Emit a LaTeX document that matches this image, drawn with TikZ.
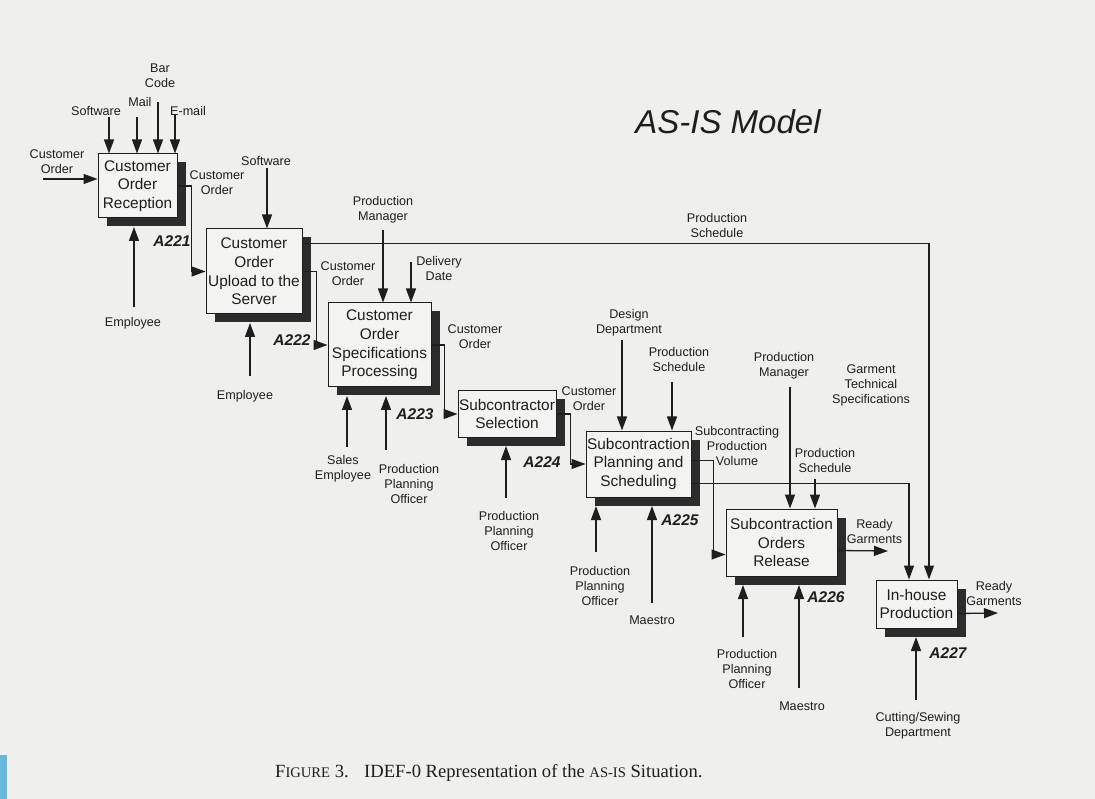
\documentclass[tikz,border=0pt]{standalone}
\usepackage{fontspec}
\setmainfont{Liberation Serif}
\newfontfamily\arialfont{Liberation Sans}
\usetikzlibrary{arrows.meta,shadows,calc}

\definecolor{paper}{RGB}{239,239,236}
\definecolor{ink}{RGB}{30,30,30}
\definecolor{shade}{RGB}{44,44,44}
\definecolor{boxfill}{RGB}{243,243,241}
\definecolor{strip}{RGB}{104,182,222}

\tikzset{
  procbox/.style={draw=ink, line width=1pt, fill=boxfill, inner sep=0pt,
    align=center, text=ink, font=\arialfont\fontsize{15.4}{18.7}\selectfont,
    drop shadow={shadow xshift=8.5pt, shadow yshift=-8.5pt, fill=shade, opacity=1}},
  lbl/.style={align=center, inner sep=0pt, text=ink,
    font=\arialfont\fontsize{12.6}{15}\selectfont},
  boxid/.style={inner sep=0pt, text=ink,
    font=\arialfont\bfseries\itshape\fontsize{15.5}{18}\selectfont},
  arr/.style={draw=ink, line width=1.3pt, -{Triangle[length=14pt,width=10pt]}},
}

\begin{document}
\begin{tikzpicture}[x=1pt,y=-1pt]
\useasboundingbox (0,0) rectangle (1095,799);
\fill[paper] (0,0) rectangle (1095,799);
\fill[strip] (0,755) rectangle (7,799);

% activity boxes
\node[procbox, minimum width=79pt, minimum height=64pt] (a221) at (137.5,186)
  {Customer\\Order\\Reception};
\node[procbox, minimum width=96pt, minimum height=85pt] (a222) at (254,271.5)
  {Customer\\Order\\Upload to the\\Server};
\node[procbox, minimum width=103pt, minimum height=84pt] (a223) at (379.5,345)
  {Customer\\Order\\Specifications\\Processing};
\node[procbox, minimum width=98pt, minimum height=46pt] (a224) at (507,414)
  {Subcontractor\\Selection};
\node[procbox, minimum width=105pt, minimum height=66pt] (a225) at (638.5,464)
  {Subcontraction\\Planning and\\Scheduling};
\node[procbox, minimum width=111pt, minimum height=67pt] (a226) at (781.5,542.5)
  {Subcontraction\\Orders\\Release};
\node[procbox, minimum width=81pt, minimum height=48pt] (a227) at (916.5,604)
  {In-house\\Production};

% box numbers
\node[boxid] (n221) at (172,241) {A221};
\node[boxid] (n222) at (292,340) {A222};
\node[boxid] (n223) at (415,414) {A223};
\node[boxid] (n224) at (542,462) {A224};
\node[boxid] (n225) at (680,520) {A225};
\node[boxid] (n226) at (826,597) {A226};
\node[boxid] (n227) at (948,653) {A227};

% free ends of boundary arrows
\coordinate (in221)  at (43,179);
\coordinate (sw221)  at (109,117);
\coordinate (ml221)  at (137,117);
\coordinate (bc221)  at (158,102);
\coordinate (em221)  at (175,115);
\coordinate (ep221)  at (134,307);
\coordinate (sw222)  at (267,168);
\coordinate (ep222)  at (250,376);
\coordinate (pm223)  at (383,230);
\coordinate (dd223)  at (411,262);
\coordinate (se223)  at (347,447);
\coordinate (po223)  at (386,450);
\coordinate (po224)  at (506,498);
\coordinate (dp225)  at (622,340);
\coordinate (ps225)  at (672,382);
\coordinate (po225)  at (596,552);
\coordinate (ma225)  at (652,603);
\coordinate (pm226)  at (790,387);
\coordinate (ps226)  at (815,479);
\coordinate (po226)  at (743,637);
\coordinate (ma226)  at (799,688);
\coordinate (rg226)  at (888,551);
\coordinate (cs227)  at (916,700);
\coordinate (rg227)  at (998,613);

% A221
\draw[arr] (in221) -- (in221 -| a221.west);
\draw[arr] (sw221) -- (sw221 |- a221.north);
\draw[arr] (ml221) -- (ml221 |- a221.north);
\draw[arr] (bc221) -- (bc221 |- a221.north);
\draw[arr] (em221) -- (em221 |- a221.north);
\draw[arr] (ep221) -- ($(ep221 |- a221.south)+(0,8.5)$);
\draw[arr] (a221.east) -- ++(14,0) |- (a222.west);

% A222
\draw[arr] (sw222) -- (sw222 |- a222.north);
\draw[arr] (ep222) -- ($(ep222 |- a222.south)+(0,8.5)$);
\draw[arr] ($(a222.north east)+(0,15)$) -| ($(a227.north)+(12.5,0)$);
\draw[arr] (a222.east) -- ++(14,0) |- (a223.west);

% A223
\draw[arr] (pm223) -- (pm223 |- a223.north);
\draw[arr] (dd223) -- (dd223 |- a223.north);
\draw[arr] (se223) -- ($(se223 |- a223.south)+(0,8.5)$);
\draw[arr] (po223) -- ($(po223 |- a223.south)+(0,8.5)$);
\draw[arr] (a223.east) -- ++(13,0) |- (a224.west);

% A224
\draw[arr] (po224) -- ($(po224 |- a224.south)+(0,8.5)$);
\draw[arr] (a224.east) -- ++(14,0) |- (a225.west);

% A225
\draw[arr] (dp225) -- (dp225 |- a225.north);
\draw[arr] (ps225) -- (ps225 |- a225.north);
\draw[arr] (po225) -- ($(po225 |- a225.south)+(0,8.5)$);
\draw[arr] (ma225) -- ($(ma225 |- a225.south)+(0,8.5)$);
\draw[arr] ($(a225.north east)+(0,30)$) -- ++(22,0) |- ($(a226.south west)+(0,-22)$);
\draw[arr] ($(a225.north east)+(0,53)$) -| ($(a227.north)+(-7.5,0)$);

% A226
\draw[arr] (pm226) -- (pm226 |- a226.north);
\draw[arr] (ps226) -- (ps226 |- a226.north);
\draw[arr] (po226) -- ($(po226 |- a226.south)+(0,8.5)$);
\draw[arr] (ma226) -- ($(ma226 |- a226.south)+(0,8.5)$);
\draw[arr] ($(a226.north east)+(0,42)$) -- (rg226);

% A227
\draw[arr] (cs227) -- ($(cs227 |- a227.south)+(0,8.5)$);
\draw[arr] ($(a227.south east)+(0,-15)$) -- (rg227);

% arrow labels
\node[lbl] (l01) at (57,161.5)  {Customer\\Order};
\node[lbl] (l02) at (96,111)    {Software};
\node[lbl] (l03) at (140,102)   {Mail};
\node[lbl] (l04) at (160,76)    {Bar\\Code};
\node[lbl] (l05) at (188,111)   {E-mail};
\node[lbl] (l06) at (217,182.5) {Customer\\Order};
\node[lbl] (l07) at (133,323)   {Employee};
\node[lbl] (l08) at (266,161)   {Software};
\node[lbl] (l09) at (717,225.5) {Production\\Schedule};
\node[lbl] (l10) at (348,273.5) {Customer\\Order};
\node[lbl] (l11) at (245,396)   {Employee};
\node[lbl] (l12) at (383,209.5) {Production\\Manager};
\node[lbl] (l13) at (439,268.5) {Delivery\\Date};
\node[lbl] (l14) at (475,336.5) {Customer\\Order};
\node[lbl] (l15) at (343,468.5) {Sales\\Employee};
\node[lbl] (l16) at (409,483.5) {Production\\Planning\\Officer};
\node[lbl] (l17) at (589,399)   {Customer\\Order};
\node[lbl] (l18) at (509,531)   {Production\\Planning\\Officer};
\node[lbl] (l19) at (629,322.5) {Design\\Department};
\node[lbl] (l20) at (679,359.5) {Production\\Schedule};
\node[lbl] (l21) at (737,445.5) {Subcontracting\\Production\\Volume};
\node[lbl] (l22) at (600,586)   {Production\\Planning\\Officer};
\node[lbl] (l23) at (652,620)   {Maestro};
\node[lbl] (l24) at (784,366)   {Production\\Manager};
\node[lbl] (l25) at (825,460.5) {Production\\Schedule};
\node[lbl] (l26) at (871,385)   {Garment\\Technical\\Specifications};
\node[lbl] (l27) at (874.5,531.5) {Ready\\Garments};
\node[lbl] (l28) at (747,669)   {Production\\Planning\\Officer};
\node[lbl] (l29) at (802,706)   {Maestro};
\node[lbl] (l30) at (994,593.5) {Ready\\Garments};
\node[lbl] (l31) at (918,725.5) {Cutting/Sewing\\Department};

% heading and caption
\node[inner sep=0pt, text=ink, font=\arialfont\itshape\fontsize{33}{36}\selectfont]
  (title) at (728,122) {AS-IS Model};
\node[inner sep=0pt, anchor=west, text=ink, font=\fontsize{18.6}{22}\selectfont]
  (caption) at (275,773)
  {F{\fontsize{14.6}{18}\selectfont IGURE} 3.\hspace{0.5em} IDEF-0 Representation of the
   {\fontsize{14.6}{18}\selectfont AS-IS} Situation.};
\end{tikzpicture}
\end{document}
